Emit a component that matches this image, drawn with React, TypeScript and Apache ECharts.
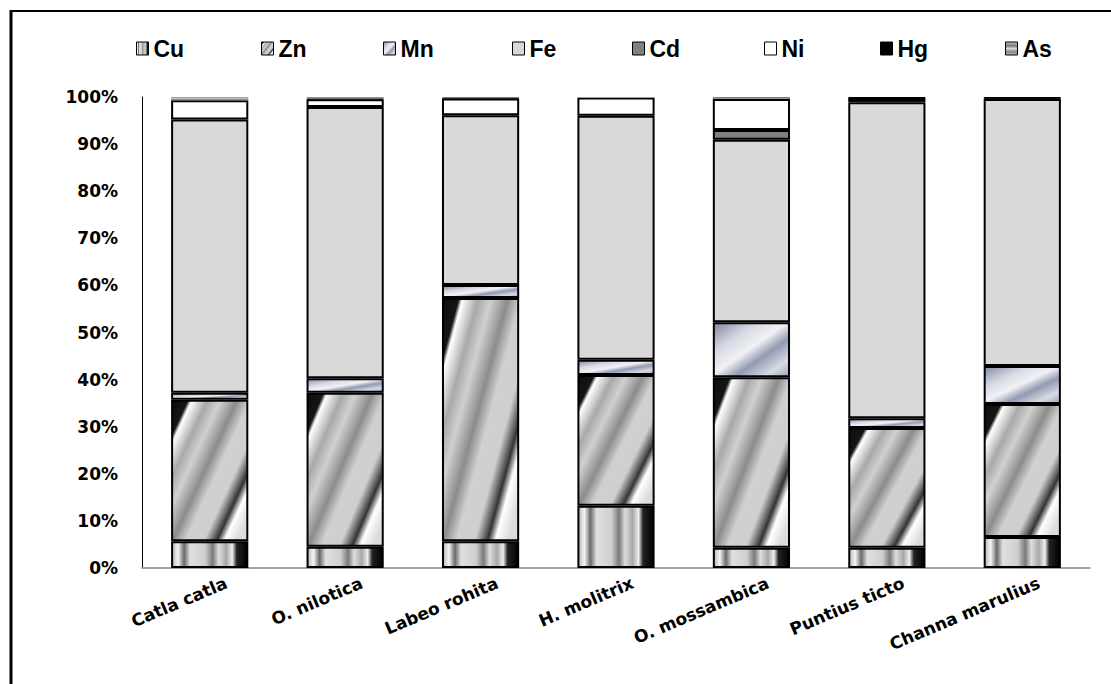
import React, { useEffect, useRef } from "react";
import * as echarts from "echarts";

const categories = [
  "Catla catla",
  "O. nilotica",
  "Labeo rohita",
  "H. molitrix",
  "O. mossambica",
  "Puntius ticto",
  "Channa marulius",
];

const cu = [5.7, 4.5, 5.7, 13.2, 4.3, 4.3, 6.6];
const zn = [30.0, 32.7, 51.6, 27.8, 36.2, 25.4, 28.2];
const mn = [1.5, 3.1, 2.8, 3.2, 11.7, 2.1, 8.1];
const fe = [58.0, 57.6, 36.0, 51.8, 38.7, 67.1, 56.7];
const cd = [0.0, 0.0, 0.0, 0.0, 2.1, 0.0, 0.0];
const ni = [4.1, 1.6, 3.6, 3.9, 6.6, 0.0, 0.0];
const hg = [0.0, 0.2, 0.2, 0.0, 0.0, 1.1, 0.4];
const as = [0.7, 0.3, 0.1, 0.1, 0.4, 0.0, 0.0];

const yTicks = [0, 10, 20, 30, 40, 50, 60, 70, 80, 90, 100];

const cuFill = new echarts.graphic.LinearGradient(0, 0, 1, 0, [
  { offset: 0, color: "#b8b8b8" },
  { offset: 0.08, color: "#f4f4f4" },
  { offset: 0.16, color: "#6a6a6a" },
  { offset: 0.24, color: "#e0e0e0" },
  { offset: 0.44, color: "#cfcfcf" },
  { offset: 0.54, color: "#7a7a7a" },
  { offset: 0.62, color: "#dedede" },
  { offset: 0.72, color: "#a8a8a8" },
  { offset: 0.8, color: "#efefef" },
  { offset: 0.86, color: "#222222" },
  { offset: 1, color: "#000000" },
]);

const znFill = new echarts.graphic.LinearGradient(0, 0, 1, 0.85, [
  { offset: 0, color: "#0d0d0d" },
  { offset: 0.12, color: "#151515" },
  { offset: 0.15, color: "#ffffff" },
  { offset: 0.27, color: "#a9a9a9" },
  { offset: 0.37, color: "#d0d0d0" },
  { offset: 0.5, color: "#8c8c8c" },
  { offset: 0.6, color: "#d0d0d0" },
  { offset: 0.74, color: "#cfcfcf" },
  { offset: 0.84, color: "#333333" },
  { offset: 0.9, color: "#ffffff" },
  { offset: 1, color: "#dcdcdc" },
]);

const mnFill = new echarts.graphic.LinearGradient(0, 0, 1, 1, [
  { offset: 0, color: "#8088a0" },
  { offset: 0.28, color: "#d6d9e3" },
  { offset: 0.48, color: "#f2f2f5" },
  { offset: 0.64, color: "#939ab2" },
  { offset: 0.84, color: "#d8dbe4" },
  { offset: 1, color: "#9ca2b8" },
]);

const asFill = new echarts.graphic.LinearGradient(0, 0, 0, 1, [
  { offset: 0, color: "#c8c8c8" },
  { offset: 0.3, color: "#777777" },
  { offset: 0.5, color: "#d8d8d8" },
  { offset: 0.75, color: "#888888" },
  { offset: 1, color: "#bbbbbb" },
]);

const seriesDefs = [
  { name: "Cu", data: cu, color: cuFill, border: 2 },
  { name: "Zn", data: zn, color: znFill, border: 2 },
  { name: "Mn", data: mn, color: mnFill, border: 2 },
  { name: "Fe", data: fe, color: "#d9d9d9", border: 2 },
  { name: "Cd", data: cd, color: "#808080", border: 2 },
  { name: "Ni", data: ni, color: "#ffffff", border: 2 },
  { name: "Hg", data: hg, color: "#000000", border: 1 },
  { name: "As", data: as, color: asFill, border: 0 },
];

const legendLefts = [131, 256, 378, 507, 627, 759, 875, 1000];

export default function App() {
  const ref = useRef<HTMLDivElement>(null);

  useEffect(() => {
    if (!ref.current) return;
    const chart = echarts.init(ref.current, undefined, { renderer: "svg" });
    chart.setOption({
      animation: false,
      backgroundColor: "#ffffff",
      legend: seriesDefs.map((s, i) => ({
        top: 32,
        left: legendLefts[i],
        itemWidth: 12,
        itemHeight: 13,
        itemGap: 0,
        icon: "rect",
        selectedMode: false,
        itemStyle: { borderColor: "#000", borderWidth: 1 },
        textStyle: {
          fontFamily: "Liberation Sans, Arial, sans-serif",
          fontWeight: "bold",
          fontSize: 23,
          color: "#000",
        },
        data: [s.name],
      })),
      grid: { left: 142, right: 21, top: 97, bottom: 116 },
      xAxis: {
        type: "category",
        data: categories,
        axisLine: { show: true, lineStyle: { color: "#888888", width: 1.5 } },
        axisTick: { show: false },
        axisLabel: {
          rotate: 23,
          margin: 21,
          interval: 0,
          padding: [0, -18, 0, 0],
          fontFamily: "DejaVu Sans, sans-serif",
          fontWeight: "bold",
          fontSize: 17,
          color: "#000",
        },
      },
      yAxis: {
        type: "value",
        min: yTicks[0],
        max: yTicks[yTicks.length - 1],
        interval: 10,
        splitLine: { show: false },
        axisLine: { show: true, lineStyle: { color: "#000", width: 1 } },
        axisTick: { show: false },
        axisLabel: {
          formatter: "{value}%",
          margin: 24,
          fontFamily: "DejaVu Sans, sans-serif",
          fontWeight: "bold",
          fontSize: 17,
          color: "#000",
        },
      },
      series: seriesDefs.map((s) => ({
        name: s.name,
        type: "bar",
        stack: "total",
        barWidth: "57%",
        data: s.data.map((v) => (v > 0 ? v : "-")),
        itemStyle: {
          color: s.color,
          borderColor: "#000",
          borderWidth: s.border,
        },
      })),
      graphic: [
        {
          type: "line",
          shape: { x1: 11, y1: 10, x2: 11, y2: 684 },
          style: { stroke: "#000", lineWidth: 3 },
        },
        {
          type: "line",
          shape: { x1: 10, y1: 11, x2: 1111, y2: 11 },
          style: { stroke: "#000", lineWidth: 2 },
        },
      ],
    });
    return () => chart.dispose();
  }, []);

  return (
    <div
      ref={ref}
      style={{ position: "absolute", left: 0, top: 0, width: 1111, height: 684 }}
    />
  );
}
